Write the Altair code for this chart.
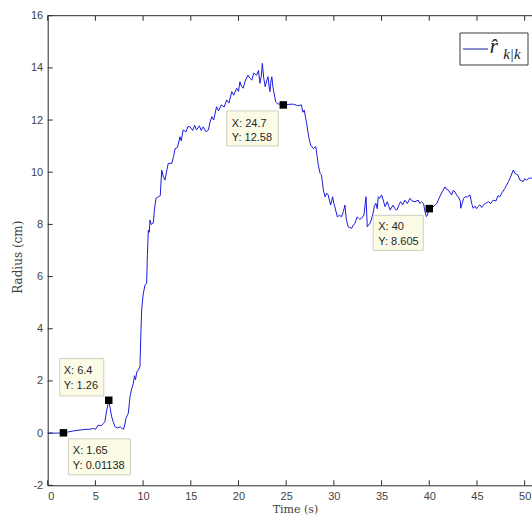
import altair as alt
import pandas as pd

# ---- data ----
times = [0, 1.0, 1.65, 2.2, 2.8, 3.4, 3.9, 4.4, 4.8, 5.0, 5.3, 5.6, 5.85, 6.0, 6.2, 6.4, 6.55, 6.7,
         6.9, 7.05, 7.3, 7.6, 7.8, 7.95, 8.1, 8.2, 8.45, 8.63, 8.8, 8.98, 9.1, 9.2, 9.35, 9.5, 9.67,
         9.75, 9.85, 10.0, 10.2, 10.37, 10.45, 10.55, 10.65, 10.72, 10.85, 11.07, 11.2, 11.35, 11.6,
         11.8, 11.95, 12.1, 12.3, 12.5, 12.64, 13.0, 13.2, 13.35, 13.6, 13.87, 14.0, 14.2, 14.5, 14.7,
         14.9, 15.2, 15.4, 15.6, 15.9, 16.1, 16.3, 16.6, 16.85, 17.0, 17.2, 17.4, 17.7, 17.9, 18.2,
         18.5, 18.76, 19.0, 19.3, 19.5, 19.8, 20.0, 20.15, 20.3, 20.5, 20.7, 21.0, 21.2, 21.4, 21.6,
         21.9, 22.1, 22.25, 22.4, 22.5, 22.65, 22.8, 22.95, 23.1, 23.2, 23.3, 23.4, 23.5, 23.6, 23.7,
         23.9, 24.1, 24.35, 24.7, 25.2, 25.75, 26.2, 26.6, 26.75, 26.9, 27.05, 27.15, 27.3, 27.45,
         27.57, 27.85, 28.1, 28.25, 28.37, 28.55, 28.7, 28.8, 28.9, 29.07, 29.25, 29.4, 29.55, 29.66,
         29.87, 30.0, 30.1, 30.36, 30.6, 30.8, 31.0, 31.16, 31.3, 31.5, 31.87, 32.0, 32.2, 32.45,
         32.7, 32.9, 33.15, 33.37, 33.5, 33.78, 33.95, 34.1, 34.25, 34.4, 34.55, 34.65, 34.8, 35.0,
         35.2, 35.36, 35.6, 35.75, 35.9, 36.2, 36.4, 36.6, 36.9, 37.0, 37.2, 37.45, 37.7, 37.98,
         38.2, 38.5, 38.85, 39.0, 39.2, 39.4, 39.55, 39.7, 39.8, 40.0, 40.3, 40.5, 40.8, 41.1, 41.35,
         41.65, 41.8, 42.0, 42.2, 42.35, 42.5, 42.7, 42.9, 43.05, 43.25, 43.3, 43.45, 43.6, 43.75,
         44.0, 44.27, 44.45, 44.6, 44.8, 44.95, 45.1, 45.3, 45.5, 45.66, 45.9, 46.2, 46.45, 46.7,
         47.0, 47.2, 47.4, 47.6, 47.93, 48.1, 48.3, 48.5, 48.8, 49.0, 49.3, 49.5, 49.85, 50.0, 50.2,
         50.5, 50.77]
radii = [0.0, 0.0, 0.01138, 0.05, 0.09, 0.12, 0.14, 0.15, 0.18, 0.14, 0.31, 0.28, 0.37, 0.45, 0.9,
         1.26, 0.95, 0.63, 0.4, 0.25, 0.2, 0.24, 0.18, 0.15, 0.35, 0.57, 0.76, 1.4, 1.7, 1.91, 2.2,
         2.05, 2.35, 2.42, 2.55, 3.6, 4.72, 5.3, 5.68, 5.74, 6.8, 7.78, 7.7, 8.17, 8.0, 8.05, 8.6,
         9.0, 9.06, 9.1, 10.08, 9.85, 9.7, 10.1, 10.34, 10.34, 10.6, 10.9, 10.95, 11.36, 11.2, 11.62,
         11.55, 11.75, 11.74, 11.6, 11.8, 11.62, 11.78, 11.6, 11.74, 11.55, 11.62, 11.9, 12.13, 12.0,
         12.51, 12.35, 12.58, 12.5, 12.77, 12.65, 13.09, 12.95, 13.22, 13.1, 13.47, 13.3, 13.22,
         13.5, 13.72, 13.6, 13.53, 13.8, 13.72, 13.9, 13.41, 13.7, 14.17, 13.6, 13.28, 13.5, 13.66,
         13.3, 13.09, 13.5, 13.66, 13.3, 13.09, 12.7, 12.62, 12.61, 12.58, 12.6, 12.61, 12.55, 12.58,
         12.3, 12.38, 12.05, 11.87, 11.49, 11.2, 11.04, 10.91, 10.98, 10.6, 10.27, 9.96, 9.89, 9.6,
         9.32, 9.06, 9.2, 9.13, 8.9, 8.74, 9.06, 8.8, 8.68, 8.29, 8.35, 8.29, 8.5, 8.74, 8.2, 7.91,
         7.85, 7.95, 8.04, 8.29, 8.2, 8.23, 8.36, 9.06, 7.91, 8.04, 8.2, 8.42, 8.7, 8.81, 8.6, 9.06,
         9.0, 9.13, 8.9, 8.68, 8.87, 8.7, 8.55, 8.74, 8.6, 8.55, 8.81, 8.87, 8.75, 8.93, 8.8, 9.0,
         8.9, 8.87, 8.93, 8.8, 8.87, 8.8, 8.49, 8.3, 8.36, 8.605, 8.65, 8.7, 8.81, 9.06, 9.25, 9.44,
         9.35, 9.32, 9.2, 9.13, 9.3, 9.25, 9.1, 9.06, 8.9, 8.62, 8.8, 9.0, 9.06, 9.05, 9.13, 8.8,
         8.62, 8.7, 8.6, 8.68, 8.75, 8.65, 8.74, 8.8, 8.87, 8.8, 8.93, 8.9, 9.1, 9.06, 9.2, 9.38,
         9.5, 9.64, 9.8, 10.08, 9.95, 9.89, 9.7, 9.64, 9.75, 9.7, 9.78, 9.77]

tip_x = [1.65, 6.4, 24.7, 40]
tip_y = [0.01138, 1.26, 12.58, 8.605]
tip_xlab = ["1.65", "6.4", "24.7", "40"]
tip_ylab = ["0.01138", "1.26", "12.58", "8.605"]

x_ticks = [0, 5, 10, 15, 20, 25, 30, 35, 40, 45, 50]
y_ticks = [-2, 0, 2, 4, 6, 8, 10, 12, 14, 16]

legend_main = "r\u0302"
legend_sub = "k|k"
x_title = "Time (s)"
y_title = "Radius (cm)"

# ---- layout ----
W = 484.3
H = 469.6
XDOM = [0, 50.77]
YDOM = [-2, 16]
AXC = "#2b2b2b"
LABC = "#444444"

xs = alt.Scale(domain=XDOM, nice=False, zero=False)
ys = alt.Scale(domain=YDOM, nice=False, zero=False)

df = pd.DataFrame({"t": times, "r": radii})
one = pd.DataFrame({"a": [1]})

line = alt.Chart(df).mark_line(color="#1c1cdc", strokeWidth=1, clip=True).encode(
    x=alt.X("t:Q", scale=xs, axis=alt.Axis(
        values=x_ticks, title=x_title, grid=False, ticks=False, tickSize=0,
        labelPadding=5, labelFont="Liberation Sans", labelFontSize=11, labelColor=LABC,
        domainColor=AXC, domainWidth=1,
        titleFont="DejaVu Serif", titleFontSize=11, titleFontWeight="normal", titleColor="#404040",
        titleX=247.3, titleY=27.6, titleBaseline="alphabetic", titleAlign="center")),
    y=alt.Y("r:Q", scale=ys, axis=alt.Axis(
        values=y_ticks, title=y_title, grid=False, ticks=False, tickSize=0,
        labelPadding=5, labelFont="Liberation Sans", labelFontSize=11, labelColor=LABC,
        labelExpr="datum.value < 0 ? '-' + abs(datum.value) : datum.label",
        domainColor=AXC, domainWidth=1,
        titleFont="DejaVu Serif", titleFontSize=12, titleFontWeight="normal", titleColor="#404040",
        titleX=-30.7, titleY=241, titleBaseline="middle", titleAlign="center", titleAngle=270)),
)

xt = pd.DataFrame({"v": x_ticks})
yt = pd.DataFrame({"v": y_ticks})
xtick_b = alt.Chart(xt).mark_rule(color=AXC, strokeWidth=1).encode(
    x=alt.X("v:Q", scale=xs, axis=None), y=alt.value(H), y2=alt.value(H - 5))
xtick_t = alt.Chart(xt).mark_rule(color=AXC, strokeWidth=1).encode(
    x=alt.X("v:Q", scale=xs, axis=None), y=alt.value(0), y2=alt.value(5))
ytick = alt.Chart(yt).mark_rule(color=AXC, strokeWidth=1).encode(
    y=alt.Y("v:Q", scale=ys, axis=None), x=alt.value(0), x2=alt.value(5))
top_border = alt.Chart(one).mark_rule(color=AXC, strokeWidth=1).encode(
    x=alt.value(0), x2=alt.value(W), y=alt.value(0))

# data tips: box offsets (left, right, top, bottom) and text offsets (dx, dy) relative to the point
tip_layout = [
    dict(box=(5, 67, 6, 42), txt=(9.4, 21)),
    dict(box=(-49, -5, -41.7, -4.3), txt=(-45, -26.5)),
    dict(box=(-56.6, -5, 6, 41), txt=(-51.6, 21.7)),
    dict(box=(-56, -6, 6.7, 41.7), txt=(-51, 21.7)),
]
tip_layers = []
for i in range(len(tip_x)):
    d = pd.DataFrame({"tx": [tip_x[i]], "ty": [tip_y[i]],
                      "lab": ["X: " + tip_xlab[i] + "\nY: " + tip_ylab[i]]})
    bl, br, bt, bb = tip_layout[i]["box"]
    dx, dy = tip_layout[i]["txt"]
    rect = alt.Chart(d).mark_rect(fill="#fcfce6", stroke="#cfcfbf", strokeWidth=1,
                                  xOffset=bl, x2Offset=br, yOffset=bt, y2Offset=bb).encode(
        x=alt.X("tx:Q", scale=xs, axis=None), x2="tx:Q",
        y=alt.Y("ty:Q", scale=ys, axis=None), y2="ty:Q")
    txt = alt.Chart(d).mark_text(align="left", baseline="alphabetic", dx=dx, dy=dy,
                                 lineBreak="\n", lineHeight=14.8, font="Liberation Sans",
                                 fontSize=11, color="#262626").encode(
        x=alt.X("tx:Q", scale=xs, axis=None), y=alt.Y("ty:Q", scale=ys, axis=None), text="lab:N")
    tip_layers += [rect, txt]

tips_df = pd.DataFrame({"tx": tip_x, "ty": tip_y})
markers = alt.Chart(tips_df).mark_square(size=56, color="black", opacity=1).encode(
    x=alt.X("tx:Q", scale=xs, axis=None), y=alt.Y("ty:Q", scale=ys, axis=None))

# legend
leg_box = alt.Chart(one).mark_rect(fill="white", stroke="#3a3a3a", strokeWidth=1).encode(
    x=alt.value(412.3), x2=alt.value(480.3), y=alt.value(17.3), y2=alt.value(49.3))
leg_line = alt.Chart(one).mark_rule(color="#1a1a9a", strokeWidth=1).encode(
    x=alt.value(415.3), x2=alt.value(440.3), y=alt.value(33.3))
leg_main = alt.Chart(one).mark_text(text=legend_main, align="left", baseline="alphabetic",
                                    font="Liberation Serif", fontStyle="italic", fontSize=21,
                                    color="#222222").encode(
    x=alt.value(442), y=alt.value(37.5))
leg_sub = alt.Chart(one).mark_text(text=legend_sub, align="left", baseline="alphabetic",
                                   font="Liberation Serif", fontStyle="italic", fontSize=15,
                                   color="#222222").encode(
    x=alt.value(455.5), y=alt.value(43.5))

chart = alt.layer(
    line, xtick_b, xtick_t, ytick, top_border, *tip_layers, markers,
    leg_box, leg_line, leg_main, leg_sub,
).resolve_axis(x="independent", y="independent").properties(
    width=W, height=H,
    padding={"left": 47.7, "top": 15.7, "right": 0, "bottom": 29.7},
    autosize=alt.AutoSizeParams(type="none"),
    background="white",
).configure_view(stroke="transparent")

chart.save("out.html", embed_options={"renderer": "svg", "actions": False})
